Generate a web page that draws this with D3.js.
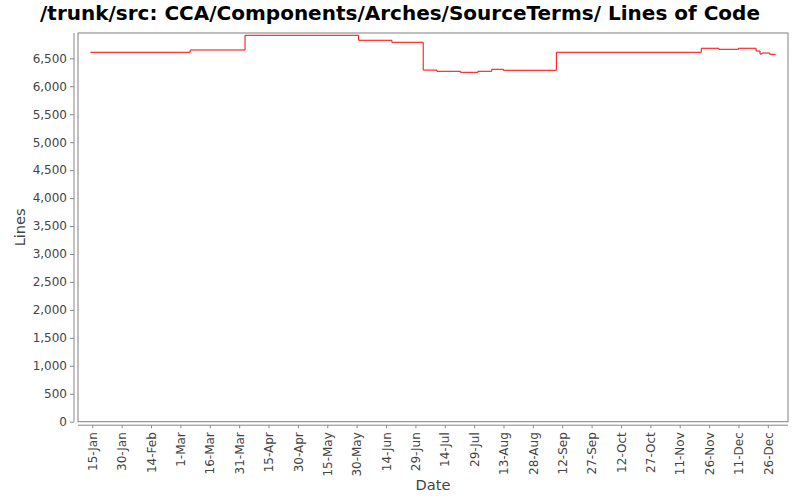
<!DOCTYPE html>
<html>
<head>
<meta charset="utf-8">
<script src="https://cdn.jsdelivr.net/npm/d3@7"></script>
<style>
  html, body { margin: 0; padding: 0; background: #fff; }
  svg { display: block; }
  text { font-family: "DejaVu Sans", sans-serif; }
</style>
</head>
<body>
<svg id="chart" width="800" height="500"></svg>
<script>
// ---- data ----
const title = "/trunk/src: CCA/Components/Arches/SourceTerms/ Lines of Code";
const xLabel = "Date";
const yLabel = "Lines";
const year = 2007;
const dates = ["2007-01-14","2007-03-06","2007-04-03","2007-05-31","2007-06-17","2007-07-03",
               "2007-07-10","2007-07-22","2007-07-31","2007-08-07","2007-08-13","2007-09-09",
               "2007-11-22","2007-12-01","2007-12-11","2007-12-20","2007-12-22","2007-12-23",
               "2007-12-27","2007-12-30"];
const lines = [6608, 6649, 6912, 6823, 6787, 6290,
               6268, 6250, 6268, 6304, 6286, 6608,
               6680, 6662, 6680, 6631, 6577, 6595,
               6572, 6572];
const xTickLabels = ["15-Jan","30-Jan","14-Feb","1-Mar","16-Mar","31-Mar","15-Apr","30-Apr",
                     "15-May","30-May","14-Jun","29-Jun","14-Jul","29-Jul","13-Aug","28-Aug",
                     "12-Sep","27-Sep","12-Oct","27-Oct","11-Nov","26-Nov","11-Dec","26-Dec"];
const yTicks = [0,500,1000,1500,2000,2500,3000,3500,4000,4500,5000,5500,6000,6500];
const yMax = 6953;

// ---- layout ----
const svg = d3.select("#chart");
const plot = { left: 78, right: 788, top: 33, bottom: 421.7 };
const textColor = "#444";
const axisColor = "#888";

const parseISO = d3.timeParse("%Y-%m-%d");
const parseTick = d3.timeParse("%d-%b-%Y");
const data = dates.map((d, i) => ({ date: parseISO(d), value: lines[i] }));
const tickDates = xTickLabels.map(t => parseTick(t + "-" + year));

const t0 = data[0].date, t1 = data[data.length - 1].date;
const pad = (t1 - t0) * 0.018;
const x = d3.scaleTime()
  .domain([new Date(+t0 - pad), new Date(+t1 + pad)])
  .range([plot.left, plot.right]);
const y = d3.scaleLinear().domain([0, yMax]).range([plot.bottom, plot.top]);

// title
svg.append("text")
  .attr("x", 400).attr("y", 20)
  .attr("text-anchor", "middle")
  .attr("font-size", "20px").attr("font-weight", "bold")
  .attr("fill", "#000")
  .text(title);

// plot background + border
svg.append("rect")
  .attr("x", plot.left).attr("y", plot.top)
  .attr("width", plot.right - plot.left).attr("height", plot.bottom - plot.top)
  .attr("fill", "#fff").attr("stroke", "#808080").attr("stroke-width", 1);

// y axis
const yAxis = d3.axisLeft(y)
  .tickValues(yTicks)
  .tickFormat(d3.format(","))
  .tickSize(4).tickPadding(3);
const gy = svg.append("g").attr("transform", `translate(${plot.left - 4},0)`).call(yAxis);
gy.select(".domain").attr("stroke", axisColor).attr("d", `M0,${plot.top}V${plot.bottom}`);
gy.selectAll(".tick line").attr("stroke", axisColor);
gy.selectAll(".tick text").attr("fill", textColor).attr("font-size", "12px")
  .attr("font-family", "DejaVu Sans, sans-serif");

// x axis
const xAxis = d3.axisBottom(x)
  .tickValues(tickDates)
  .tickFormat((d, i) => xTickLabels[i])
  .tickSize(3).tickPadding(4);
const gx = svg.append("g").attr("transform", `translate(0,${plot.bottom + 3.5})`).call(xAxis);
gx.select(".domain").attr("stroke", axisColor).attr("d", `M${plot.left},0H${plot.right}`);
gx.selectAll(".tick line").attr("stroke", axisColor);
gx.selectAll(".tick text")
  .attr("fill", textColor).attr("font-size", "12px")
  .attr("font-family", "DejaVu Sans, sans-serif")
  .attr("transform", "rotate(-90)")
  .attr("text-anchor", "end")
  .attr("x", -7).attr("y", 0).attr("dy", "0.35em");

// line
const lineGen = d3.line()
  .x(d => x(d.date)).y(d => y(d.value))
  .curve(d3.curveStepAfter);
svg.append("path")
  .datum(data)
  .attr("d", lineGen)
  .attr("fill", "none").attr("stroke", "#ff0000").attr("stroke-width", 1);

// axis labels
svg.append("text")
  .attr("x", (plot.left + plot.right) / 2).attr("y", 490)
  .attr("text-anchor", "middle")
  .attr("font-size", "14.6px").attr("fill", textColor)
  .text(xLabel);
svg.append("text")
  .attr("transform", `translate(25,${(plot.top + plot.bottom) / 2}) rotate(-90)`)
  .attr("text-anchor", "middle")
  .attr("font-size", "14.6px").attr("fill", textColor)
  .text(yLabel);
</script>
</body>
</html>
